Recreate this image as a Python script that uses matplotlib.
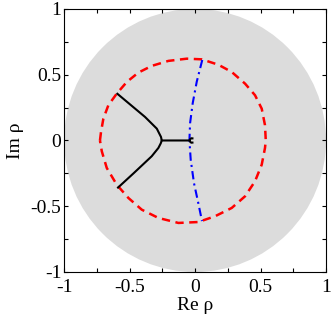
import matplotlib
matplotlib.use("Agg")
import matplotlib.pyplot as plt
from matplotlib.patches import Circle
from matplotlib.ticker import MultipleLocator, FuncFormatter

# unit disk in the background
DISK_CENTER = (0.0, 0.0)
DISK_RADIUS = 1.0

# red dashed closed contour
red_x = [-0.726, -0.718, -0.700, -0.662, -0.598, -0.521, -0.433, -0.331, -0.204,
         -0.063, 0.051, 0.178, 0.280, 0.382, 0.458, 0.509, 0.534, 0.540,
         0.534, 0.509, 0.458, 0.382, 0.280, 0.153, 0.025, -0.127, -0.280,
         -0.407, -0.509, -0.598, -0.674, -0.712, -0.726]
red_y = [0.000, 0.065, 0.166, 0.268, 0.356, 0.445, 0.516, 0.567, 0.605,
         0.622, 0.617, 0.576, 0.521, 0.432, 0.344, 0.242, 0.116, 0.000,
         -0.057, -0.184, -0.310, -0.424, -0.513, -0.576, -0.620, -0.627, -0.589,
         -0.526, -0.437, -0.336, -0.209, -0.082, 0.000]

# blue dash-dot arc
blue_x = [0.055, 0.013, -0.018, -0.038, -0.043, -0.033, -0.008, 0.025, 0.053]
blue_y = [0.612, 0.447, 0.283, 0.131, 0.000, -0.148, -0.325, -0.477, -0.613]

# black branches meeting at the vertex
black_x = [-0.593, -0.382, -0.292, -0.260, -0.254, -0.262, -0.280, -0.331, -0.470, -0.588]
black_y = [0.355, 0.179, 0.090, 0.027, 0.000, -0.022, -0.057, -0.120, -0.250, -0.358]
# stem from the vertex towards the origin, ending in a small hook
stem_x = [-0.254, -0.040, -0.036, -0.028, -0.020]
stem_y = [0.000, 0.000, 0.012, 0.017, 0.016]
hook_x = [-0.040, -0.036, -0.028, -0.020]
hook_y = [0.000, -0.012, -0.017, -0.016]

TICK_MAJOR = 0.5
TICK_MINOR = 0.25

plt.rcParams["font.family"] = ["Liberation Serif", "DejaVu Serif"]
plt.rcParams["axes.unicode_minus"] = False
plt.rcParams["lines.scale_dashes"] = False

fig = plt.figure(figsize=(3.32, 3.20), dpi=100)
ax = fig.add_axes([0.193, 0.150, 0.789, 0.822])

ax.add_patch(Circle(DISK_CENTER, DISK_RADIUS, facecolor="#dcdcdc", edgecolor="none", zorder=0))

ax.plot(red_x, red_y, color="red", lw=1.8, dashes=[6, 4], zorder=2)
ax.plot(blue_x, blue_y, color="blue", lw=1.5, dashes=[6, 3, 1.5, 3], zorder=2)
ax.plot(black_x, black_y, color="black", lw=1.5, zorder=3)
ax.plot(stem_x, stem_y, color="black", lw=1.5, zorder=3)
ax.plot(hook_x, hook_y, color="black", lw=1.5, zorder=3)

ax.set_xlim(-1, 1)
ax.set_ylim(-1, 1)
for axis in (ax.xaxis, ax.yaxis):
    axis.set_major_locator(MultipleLocator(TICK_MAJOR))
    axis.set_minor_locator(MultipleLocator(TICK_MINOR))
    axis.set_major_formatter(FuncFormatter(lambda v, p: f"{v:g}"))
ax.tick_params(which="both", direction="in", top=True, right=True, length=3, width=0.8,
               labelsize=14)
ax.tick_params(axis="x", pad=5)
ax.tick_params(axis="y", pad=2)
for s in ax.spines.values():
    s.set_linewidth(0.8)

ax.set_xlabel("Re ρ", fontsize=14, labelpad=1)
ax.set_ylabel("Im ρ", fontsize=14, labelpad=5)

fig.savefig("out.png", dpi=100)
